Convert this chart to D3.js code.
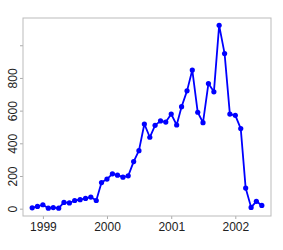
<!DOCTYPE html>
<html>
<head>
<meta charset="utf-8">
<script src="https://cdn.jsdelivr.net/npm/d3@7"></script>
<style>
  body { margin: 0; background: #fff; }
  svg { display: block; }
  .tick text { font-family: "Liberation Sans", Arial, sans-serif; font-size: 12px; fill: #222; }
</style>
</head>
<body>
<svg id="svg" width="283" height="250"></svg>
<script>
// monthly counts, Nov 1998 .. Jun 2002
var months = [
  "1998-11", "1998-12",
  "1999-01", "1999-02", "1999-03", "1999-04", "1999-05", "1999-06",
  "1999-07", "1999-08", "1999-09", "1999-10", "1999-11", "1999-12",
  "2000-01", "2000-02", "2000-03", "2000-04", "2000-05", "2000-06",
  "2000-07", "2000-08", "2000-09", "2000-10", "2000-11", "2000-12",
  "2001-01", "2001-02", "2001-03", "2001-04", "2001-05", "2001-06",
  "2001-07", "2001-08", "2001-09", "2001-10", "2001-11", "2001-12",
  "2002-01", "2002-02", "2002-03", "2002-04", "2002-05", "2002-06"
];
var counts = [
  5, 14, 24, 3, 7, 3, 38, 35, 50, 55,
  63, 71, 50, 160, 181, 213, 205, 193, 201, 288,
  355, 518, 437, 510, 537, 530, 579, 512, 624, 721,
  848, 590, 526, 766, 715, 1122, 949, 579, 571, 490,
  126, 8, 45, 20
];
var xTicks = ["1999-01", "2000-01", "2001-01", "2002-01"];
var yTicks = [0, 200, 400, 600, 800, 1000];
var yLabels = [0, 200, 400, 600, 800];

var parse = d3.timeParse("%Y-%m");
var data = months.map((m, i) => ({ date: parse(m), value: counts[i] }));

var svg = d3.select("#svg");
var mLeft = 23, mRight = 271, mTop = 18, mBottom = 216;

// pad the domains by 4% like R does
var xExt = d3.extent(data, d => +d.date);
var xPad = (xExt[1] - xExt[0]) * 0.04;
var x = d3.scaleTime()
  .domain([new Date(xExt[0] - xPad), new Date(xExt[1] + xPad)])
  .range([mLeft, mRight]);

var yExt = d3.extent(data, d => d.value);
var yPad = (yExt[1] - yExt[0]) * 0.04;
var y = d3.scaleLinear()
  .domain([yExt[0] - yPad - 3, yExt[1] + yPad])
  .range([mBottom, mTop]);

var xAxis = svg.append("g")
  .attr("transform", `translate(0, ${mBottom})`)
  .call(d3.axisBottom(x)
    .tickValues(xTicks.map(parse))
    .tickFormat(d3.timeFormat("%Y"))
    .tickSize(3)
    .tickPadding(3));

var yAxis = svg.append("g")
  .attr("transform", `translate(${mLeft}, 0)`)
  .call(d3.axisLeft(y)
    .tickValues(yTicks)
    .tickFormat(d => yLabels.includes(d) ? d : "")
    .tickSize(3));

[xAxis, yAxis].forEach(g => {
  g.select(".domain").remove();
  g.selectAll(".tick line").attr("stroke", "#aaa");
});

yAxis.selectAll(".tick text")
  .attr("text-anchor", "middle")
  .attr("x", 0)
  .attr("dy", 0)
  .attr("transform", "translate(-6, 0) rotate(-90)");

svg.append("rect")
  .attr("x", mLeft)
  .attr("y", mTop)
  .attr("width", mRight - mLeft)
  .attr("height", mBottom - mTop)
  .attr("fill", "none")
  .attr("stroke", "#bbb")
  .attr("stroke-width", 1);

var line = d3.line()
  .x(d => x(d.date))
  .y(d => y(d.value));

svg.append("path")
  .datum(data)
  .attr("d", line)
  .attr("fill", "none")
  .attr("stroke", "#0000ff")
  .attr("stroke-width", 1.8)
  .attr("stroke-linejoin", "round");

svg.selectAll(".pt")
  .data(data)
  .enter()
  .append("circle")
  .attr("class", "pt")
  .attr("cx", d => x(d.date))
  .attr("cy", d => y(d.value))
  .attr("r", 2.6)
  .attr("fill", "#0000ff");
</script>
</body>
</html>
